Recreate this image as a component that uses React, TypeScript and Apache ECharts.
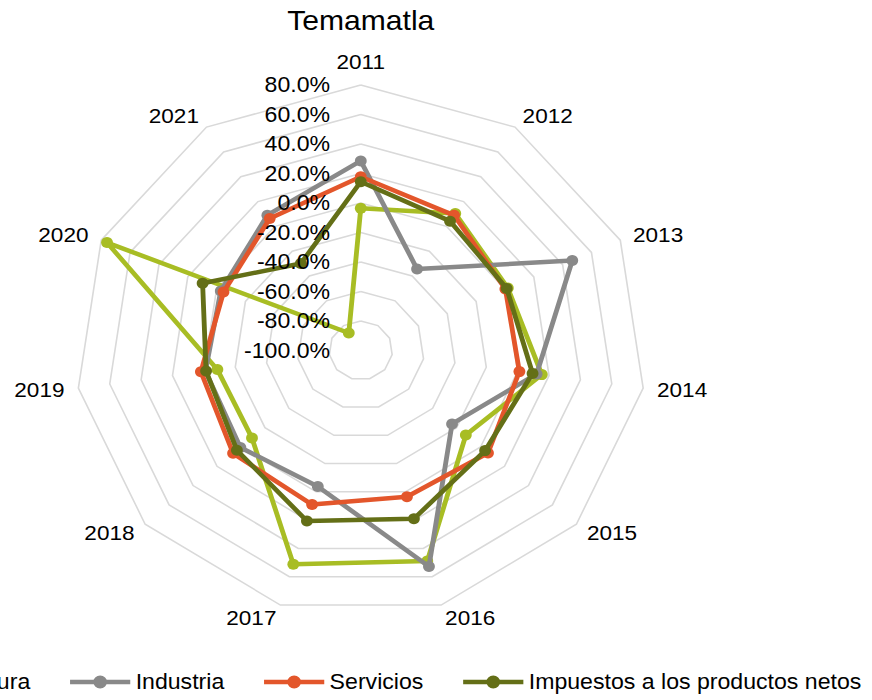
import React, { useEffect, useRef } from "react";
import * as echarts from "echarts";

const years = ["2011", "2012", "2013", "2014", "2015", "2016", "2017", "2018", "2019", "2020", "2021"];
const agricultura = [-3.6, 10.3, 2.0, 15.4, -12.3, 48.9, 51.1, -9.2, -8.6, 76.0, -86.0];
const industria = [28.5, -34.3, 46.7, 12.1, -23.8, 52.7, -3.8, 0.5, -1.0, -2.9, 9.0];
const servicios = [17.8, 8.9, 0.3, 1.1, 6.2, 3.4, 9.0, 6.6, 1.9, -4.8, 6.3];
const impuestos = [14.4, 4.2, 1.2, 9.5, 3.8, 19.0, 20.6, 3.4, -1.4, 9.7, -30.0];
const seriesNames = ["Agricultura", "Industria", "Servicios", "Impuestos a los productos netos"];
const seriesColors = ["#a8bd24", "#898989", "#e3562b", "#646f17"];
const axisMin = -100;
const axisMax = 80;

const STRETCH = 1.075;
const W = 872 / STRETCH;
const H = 700;
const FONT = "'Liberation Sans', Arial, sans-serif";

// ECharts places radar indicators counter-clockwise; reorder so years run clockwise.
const order = [0, ...years.slice(1).map((_, i) => years.length - 1 - i)];
const reorder = (arr: any[]) => order.map((i) => arr[i]);

const legendIcon =
  "path://M0,4.75 L56,4.75 L56,9.25 L0,9.25 Z M21.5,7 A6.5,6.5 0 1,1 34.5,7 A6.5,6.5 0 1,1 21.5,7 Z";

export default function App() {
  const ref = useRef<HTMLDivElement>(null);
  useEffect(() => {
    if (!ref.current) return;
    const chart = echarts.init(ref.current, null, { renderer: "svg" });
    const cx = 335.6;
    const cy = 350.4;
    const radius = 265.4;
    const gridIndicators = reorder(years).map((y: string) => ({ name: y, min: axisMin, max: axisMax }));
    const labelIndicators = reorder(years).map((y: string, k: number) => {
      const ind: any = { name: "", min: axisMin, max: axisMax };
      if (k === 0) {
        ind.axisLabel = {
          show: true,
          color: "#000",
          fontSize: 21.5,
          margin: 28.5,
          fontFamily: FONT,
          formatter: (v: number) => v.toFixed(1) + "%",
        };
      }
      return ind;
    });
    const allData = [agricultura, industria, servicios, impuestos];
    chart.setOption({
      animation: false,
      backgroundColor: "#fff",
      graphic: [
        {
          type: "text",
          x: cx,
          y: 20,
          style: {
            text: "Temamatla",
            fontSize: 28,
            fontFamily: FONT,
            fill: "#000",
            align: "center",
            verticalAlign: "middle",
          },
        },
      ],
      legend: {
        left: -135.6,
        top: 671,
        padding: 0,
        itemGap: 37,
        itemWidth: 56,
        itemHeight: 14,
        icon: legendIcon,
        textStyle: { color: "#000", fontSize: 21.5, fontFamily: FONT },
        data: seriesNames.map((n, i) => ({ name: n, itemStyle: { color: seriesColors[i] } })),
      },
      radar: [
        {
          center: [cx, cy],
          radius,
          shape: "polygon",
          splitNumber: 9,
          indicator: gridIndicators,
          nameGap: 13,
          axisName: { color: "#000", fontSize: 21, fontFamily: FONT },
          axisLine: { show: false },
          axisTick: { show: false },
          axisLabel: { show: false },
          splitArea: { show: false },
          splitLine: { lineStyle: { color: "#d9d9d9", width: 1.5 } },
        },
        {
          center: [cx, cy],
          radius,
          shape: "polygon",
          splitNumber: 9,
          z: 20,
          indicator: labelIndicators,
          axisName: { show: false },
          axisLine: { show: false },
          axisTick: { show: false },
          axisLabel: { show: false },
          splitArea: { show: false },
          splitLine: { show: false },
        },
      ],
      series: allData.map((d, i) => ({
        type: "radar",
        radarIndex: 0,
        name: seriesNames[i],
        symbol: "circle",
        symbolSize: 11,
        z: 2 + i,
        itemStyle: { color: seriesColors[i] },
        lineStyle: { color: seriesColors[i], width: 4.5 },
        data: [{ name: seriesNames[i], value: reorder(d) }],
      })),
    });
    return () => chart.dispose();
  }, []);
  return (
    <div
      style={{
        position: "fixed",
        left: 0,
        top: 0,
        width: 872,
        height: 700,
        overflow: "hidden",
        background: "#fff",
      }}
    >
      <div
        ref={ref}
        style={{
          width: W,
          height: H,
          transform: `scaleX(${STRETCH})`,
          transformOrigin: "0 0",
        }}
      />
    </div>
  );
}
